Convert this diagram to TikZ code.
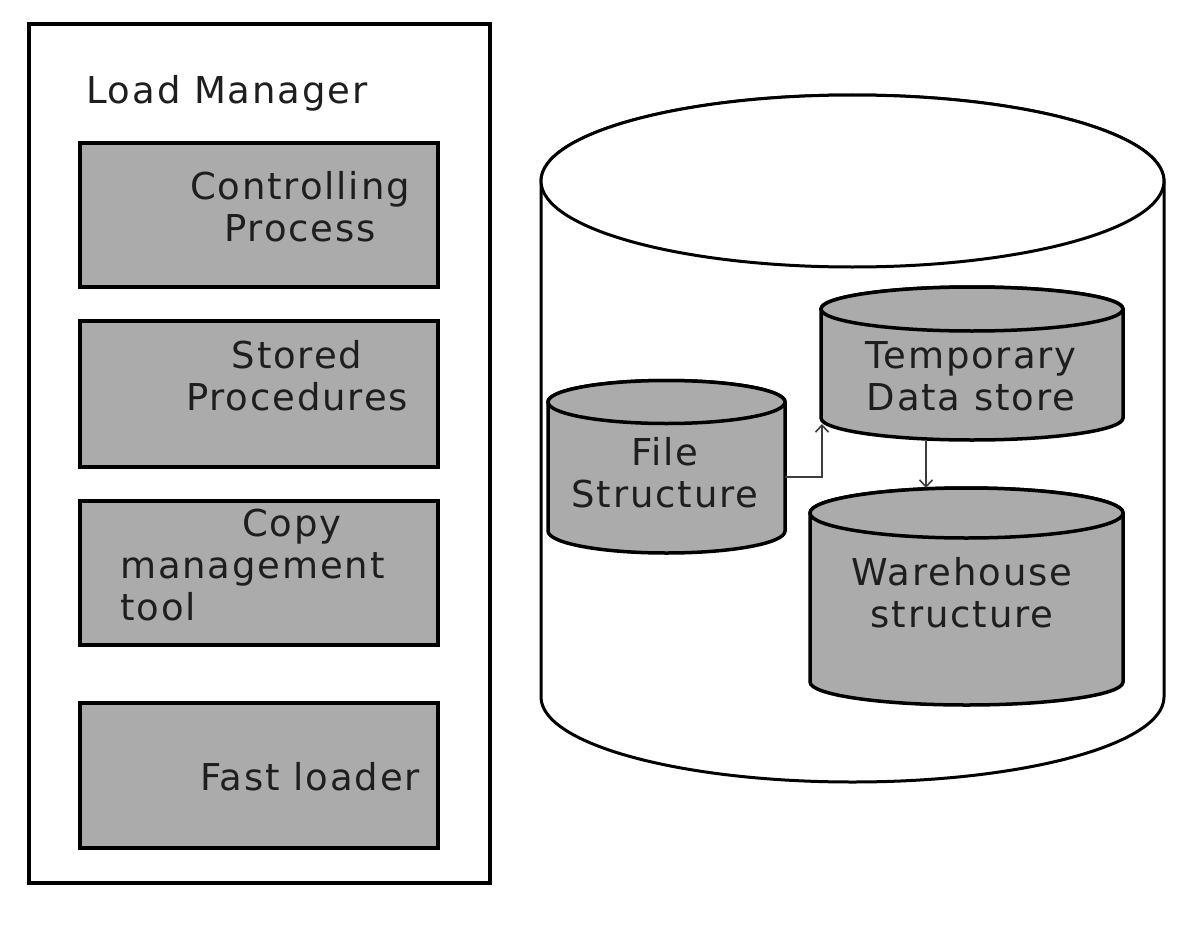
\documentclass[tikz,border=0pt]{standalone}
\usepackage{fontspec}
\setmainfont{DejaVu Sans}[LetterSpace=5]
\usetikzlibrary{arrows.meta}
\definecolor{boxgray}{RGB}{171,171,171}
\definecolor{txt}{RGB}{30,30,30}
\definecolor{linegray}{RGB}{60,60,60}
\begin{document}
\begin{tikzpicture}[x=1pt,y=-1pt,
  lbl/.style={font=\fontsize{37}{42}\selectfont, text=txt, align=center, inner sep=0pt},
  graybox/.style={draw=black, line width=4pt, fill=boxgray, rectangle, inner sep=0pt},
  outerbox/.style={draw=black, line width=4pt, fill=white, rectangle, inner sep=0pt},
  cyl/.style={draw=black, line width=3.5pt, fill=boxgray},
  bigcyl/.style={draw=black, line width=3pt, fill=white},
  conn/.style={draw=linegray, line width=1.6pt, -{Straight Barb[length=7pt,width=13pt]}}]
\useasboundingbox (0,0) rectangle (1192,934);
\fill[white] (0,0) rectangle (1192,934);

% Load manager
\node[outerbox, minimum width=461pt, minimum height=859pt] (lm) at (259.5,453.5) {};
\node[lbl, anchor=base west] (lmt) at (86,103) {Load Manager};
\node[graybox, minimum width=358pt, minimum height=144pt] (cp) at (259,215) {};
\node[graybox, minimum width=358pt, minimum height=146pt] (sp) at (259,394) {};
\node[graybox, minimum width=358pt, minimum height=144pt] (cm) at (259,573) {};
\node[graybox, minimum width=358pt, minimum height=145pt] (fl) at (259,775.5) {};
\node[lbl, anchor=base] (cpt) at (300,241) {Controlling\\Process};
\node[lbl, anchor=base] (spt) at (297,410) {Stored\\Procedures};
\node[lbl, anchor=base west, align=left] (cmt) at (120,620) {\hspace*{122pt}Copy\\management\\tool};
\node[lbl, anchor=base west] (flt) at (200,790) {Fast loader};

% big cylinder
\draw[bigcyl] (541,181) -- (541,697) arc[start angle=180,end angle=0,x radius=311.5,y radius=85] -- (1164,181) arc[start angle=0,end angle=-180,x radius=311.5,y radius=86] -- cycle;
\draw[bigcyl] (852.5,181) ellipse[x radius=311.5,y radius=86];

% File structure
\draw[cyl] (548,402) -- (548,531) arc[start angle=180,end angle=0,x radius=118.5,y radius=22] -- (785,402) arc[start angle=0,end angle=-180,x radius=118.5,y radius=21.5] -- cycle;
\draw[cyl] (666.5,402) ellipse[x radius=118.5,y radius=21.5];
% Temporary data store
\draw[cyl] (821,309) -- (821,418) arc[start angle=180,end angle=0,x radius=151,y radius=22] -- (1123,309) arc[start angle=0,end angle=-180,x radius=151,y radius=22] -- cycle;
\draw[cyl] (972,309) ellipse[x radius=151,y radius=22];
% Warehouse
\draw[cyl] (810,513) -- (810,682) arc[start angle=180,end angle=0,x radius=156.5,y radius=23] -- (1123,513) arc[start angle=0,end angle=-180,x radius=156.5,y radius=25] -- cycle;
\draw[cyl] (966.5,513) ellipse[x radius=156.5,y radius=25];

\node[lbl, anchor=base] (fst) at (665,507) {File\\Structure};
\node[lbl, anchor=base] (tdt) at (971,410) {Temporary\\Data store};
\node[lbl, anchor=base] (wst) at (962,627) {Warehouse\\structure};

% connectors
\coordinate (fsE) at (785,477);
\coordinate (tdB) at (822,424);
\coordinate (tdS) at (926,441);
\coordinate (wsT) at (926,488);
\draw[conn] (fsE) -| (tdB);
\draw[conn] (tdS) -- (wsT);
\end{tikzpicture}
\end{document}
